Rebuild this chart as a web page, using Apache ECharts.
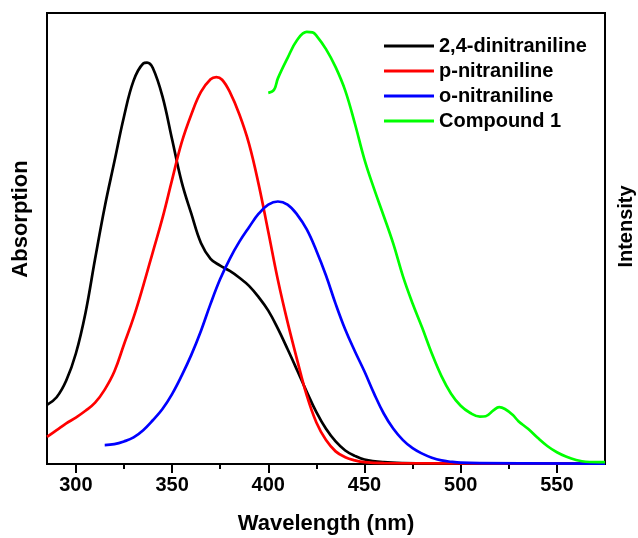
<!DOCTYPE html>
<html>
<head>
<meta charset="utf-8">
<script src="https://cdn.jsdelivr.net/npm/echarts@6/dist/echarts.min.js"></script>
<style>
  html, body { margin: 0; padding: 0; background: #fff; }
  #chart { width: 638px; height: 538px; }
</style>
</head>
<body>
<div id="chart"></div>
<script>
// wavelength (nm) and relative values
const dinitroX = [285, 290, 295, 300, 305, 310, 315, 320, 325, 330, 335, 337, 340, 345, 350, 355, 360, 365, 370, 375, 380, 385, 390, 395, 400, 405, 410, 415, 420, 425, 430, 435, 440, 445, 450, 460, 470, 500, 575]
const dinitroY = [13.1, 14.8, 18.5, 24.5, 33.5, 45.5, 57, 67, 77, 85, 88.8, 89, 87.8, 81.5, 72, 62.5, 55.5, 49, 45.5, 44, 42.8, 41.3, 39.5, 37, 34, 30, 25.5, 20.8, 16, 11.5, 7.8, 5, 3, 1.8, 1, 0.4, 0.2, 0.1, 0.1]

const paraX = [285, 290, 295, 300, 305, 310, 315, 320, 325, 330, 335, 340, 345, 350, 355, 360, 365, 370, 373, 376, 380, 385, 390, 395, 400, 405, 410, 415, 420, 425, 430, 435, 440, 445, 450, 460, 575]
const paraY = [6.0, 7.5, 9.0, 10.3, 11.8, 13.6, 16.5, 20.5, 26.5, 32.5, 39.5, 47, 54.5, 63, 71.3, 77.5, 82.5, 85.3, 85.8, 85.2, 82.5, 77.5, 71, 62, 51.5, 40.8, 31.5, 23.1, 15.2, 9.2, 5.3, 2.8, 1.5, 0.8, 0.4, 0.2, 0.1]

const orthoX = [315, 320, 325, 330, 335, 340, 345, 350, 355, 360, 365, 370, 375, 380, 385, 390, 395, 400, 405, 410, 415, 420, 425, 430, 435, 440, 445, 450, 455, 460, 465, 470, 475, 480, 485, 490, 495, 500, 510, 575]
const orthoY = [4.2, 4.4, 5.0, 5.9, 7.5, 9.7, 12.2, 15.5, 19.6, 24.2, 29.5, 35.5, 41, 45.5, 49.3, 52.5, 55.5, 57.5, 58.2, 57.5, 55.3, 52, 47.3, 41.8, 35.5, 29.8, 25, 20.5, 15.6, 11.2, 7.8, 5.3, 3.5, 2.3, 1.4, 0.8, 0.5, 0.3, 0.2, 0.1]

const compX = [400, 403, 405, 410, 415, 420, 423, 425, 430, 435, 440, 445, 450, 455, 460, 465, 470, 475, 480, 485, 490, 495, 500, 505, 510, 513, 517, 520, 523, 527, 530, 535, 540, 545, 550, 555, 560, 565, 575]
const compY = [82.3, 83, 85.5, 90, 94, 95.8, 95.7, 95, 92, 88, 82.8, 75.5, 67.5, 61, 55, 48.8, 41.6, 35.6, 30.2, 24.5, 19.5, 15.6, 12.9, 11.3, 10.5, 10.6, 11.9, 12.6, 12.2, 10.9, 9.5, 7.8, 5.8, 4, 2.6, 1.6, 0.9, 0.5, 0.4]

const majorTicks = [300, 350, 400, 450, 500, 550]
const minorTicks = [325, 375, 425, 475, 525]

const names = ['2,4-dinitraniline', 'p-nitraniline', 'o-nitraniline', 'Compound 1']
const colors = ['#000000', '#ff0000', '#0000ff', '#00ff00']

const pairs = (xs, ys) => xs.map((x, i) => [x, ys[i]])
const seriesData = [pairs(dinitroX, dinitroY), pairs(paraX, paraY), pairs(orthoX, orthoY), pairs(compX, compY)]

const font = 'Arial, "Liberation Sans", sans-serif'

const chart = echarts.init(document.getElementById('chart'))
chart.setOption({
  animation: false,
  grid: {
    left: 47, right: 33, top: 13, bottom: 74,
    outerBoundsMode: 'none',
    show: true, borderColor: '#000', borderWidth: 2, backgroundColor: 'transparent'
  },
  legend: {
    orient: 'vertical',
    left: 384, top: 36, padding: 0,
    itemWidth: 50, itemHeight: 3, itemGap: 5,
    icon: 'rect',
    data: names,
    textStyle: { fontFamily: font, fontWeight: 'bold', fontSize: 20, color: '#000', padding: [0, 0, 0, 0] }
  },
  xAxis: [
    {
      type: 'value', min: 285, max: 575,
      name: 'Wavelength (nm)', nameLocation: 'middle', nameGap: 49,
      nameTextStyle: { fontFamily: font, fontWeight: 'bold', fontSize: 22, color: '#000' },
      axisLine: { show: true, lineStyle: { color: '#000', width: 2 } },
      axisTick: { show: true, inside: false, length: 9, customValues: majorTicks, lineStyle: { color: '#000', width: 2 } },
      axisLabel: { show: true, customValues: majorTicks, margin: 11, fontFamily: font, fontWeight: 'bold', fontSize: 20, color: '#000' },
      splitLine: { show: false }
    },
    {
      type: 'value', min: 285, max: 575, position: 'bottom',
      axisLine: { show: false },
      axisTick: { show: true, inside: false, length: 5, customValues: minorTicks, lineStyle: { color: '#000', width: 2 } },
      axisLabel: { show: false },
      splitLine: { show: false }
    }
  ],
  yAxis: [
    {
      type: 'value', min: 0, max: 100, position: 'left',
      name: 'Absorption', nameLocation: 'middle', nameGap: 15, nameRotate: 90,
      nameTextStyle: { fontFamily: font, fontWeight: 'bold', fontSize: 22, color: '#000', padding: [0, 0, 0, 39] },
      axisLine: { show: true, lineStyle: { color: '#000', width: 2 } },
      axisTick: { show: false }, axisLabel: { show: false }, splitLine: { show: false }
    },
    {
      type: 'value', min: 0, max: 100, position: 'right',
      name: 'Intensity', nameLocation: 'middle', nameGap: 11, nameRotate: 90,
      nameTextStyle: { fontFamily: font, fontWeight: 'bold', fontSize: 20, color: '#000', padding: [0, 0, 0, 24] },
      axisLine: { show: true, lineStyle: { color: '#000', width: 2 } },
      axisTick: { show: false }, axisLabel: { show: false }, splitLine: { show: false }
    }
  ],
  series: names.map((name, i) => ({
    name: name,
    type: 'line',
    xAxisIndex: 0,
    yAxisIndex: i === 3 ? 1 : 0,
    data: seriesData[i],
    smooth: 0.4,
    showSymbol: false,
    color: colors[i],
    lineStyle: { color: colors[i], width: 2.7 },
    z: 3 + i
  }))
})
</script>
</body>
</html>
